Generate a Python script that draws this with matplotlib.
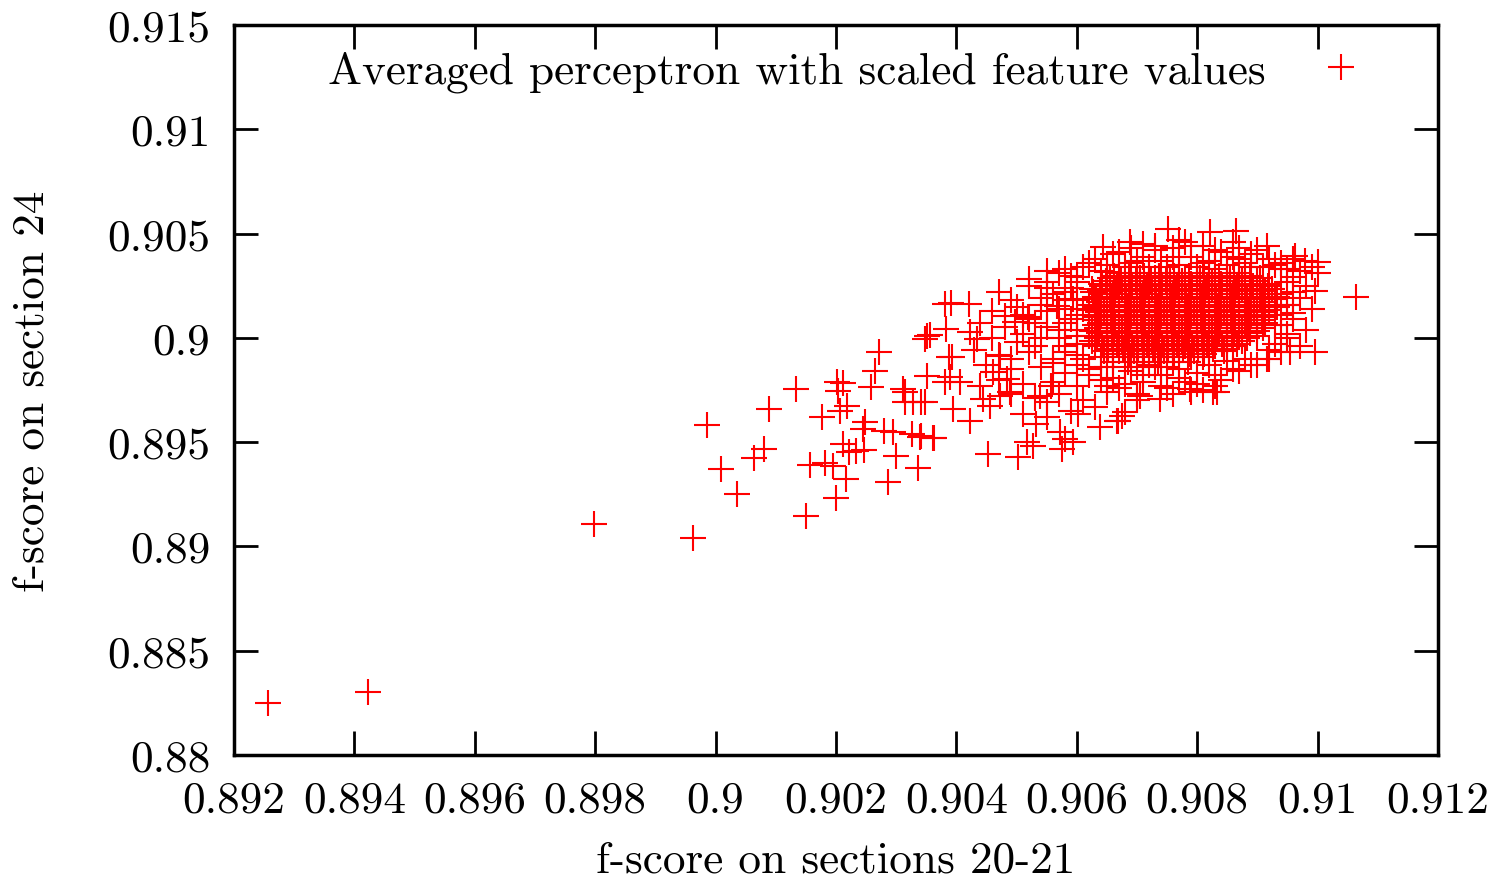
import matplotlib
matplotlib.use('Agg')
import matplotlib.pyplot as plt

plt.rcParams['font.family'] = 'cmr10'
plt.rcParams['mathtext.fontset'] = 'cm'
plt.rcParams['axes.unicode_minus'] = False

# sparse tail and loose points around the cluster (x = sections 20-21, y = section 24)
tail_x = [0.89256, 0.89423, 0.89798, 0.89962, 0.89986, 0.90009, 0.90035, 0.90064, 0.90081, 0.90089,
          0.90133, 0.90150, 0.90157, 0.90176, 0.90182, 0.90195, 0.90200, 0.90201, 0.90204, 0.90207,
          0.90211, 0.90212, 0.90217, 0.90219, 0.90222, 0.90233, 0.90245, 0.90246, 0.90248, 0.90258,
          0.90265, 0.90272, 0.90280, 0.90286, 0.90295, 0.90299, 0.90312, 0.90315, 0.90326, 0.90328,
          0.90337, 0.90341, 0.90348, 0.90351, 0.90361, 0.90395, 0.90381, 0.90389, 0.90388, 0.90382,
          0.90351, 0.90356, 0.90348, 0.90381, 0.90391, 0.90315, 0.90342, 0.90340, 0.90362, 0.90421,
          0.90423, 0.90434, 0.90392, 0.90406, 0.90423, 0.90445, 0.90453, 0.90503, 0.90517, 0.90528,
          0.90533, 0.90511, 0.90572, 0.90580, 0.90575, 0.90594, 0.90602, 0.90639, 0.90666, 0.90481,
          0.90519, 0.90497, 0.90472, 0.90461, 0.90484, 0.90439, 0.90456, 0.90472, 0.90489, 0.90539,
          0.90550, 0.90558, 0.90521, 0.90550, 0.90590, 0.90644, 0.90650, 0.90567, 0.90594, 0.90627]
tail_y = [0.88249, 0.88302, 0.89108, 0.89039, 0.89584, 0.89371, 0.89251, 0.89423, 0.89467, 0.89659,
          0.89755, 0.89144, 0.89390, 0.89622, 0.89400, 0.89387, 0.89231, 0.89790, 0.89747, 0.89651,
          0.89491, 0.89782, 0.89323, 0.89675, 0.89451, 0.89459, 0.89563, 0.89464, 0.89595, 0.89763,
          0.89840, 0.89934, 0.89555, 0.89310, 0.89547, 0.89435, 0.89755, 0.89694, 0.89539, 0.89691,
          0.89375, 0.89531, 0.89691, 0.89819, 0.89520, 0.89659, 0.89787, 0.89811, 0.89910, 0.90042,
          0.90010, 0.90014, 0.89995, 0.90162, 0.90166, 0.89739, 0.89691, 0.89523, 0.89518, 0.90162,
          0.90027, 0.89995, 0.89907, 0.89787, 0.89603, 0.89707, 0.89443, 0.89427, 0.89499, 0.89483,
          0.89587, 0.89635, 0.89547, 0.89515, 0.89467, 0.89499, 0.89635, 0.89571, 0.89603, 0.90106,
          0.90099, 0.90075, 0.89914, 0.89835, 0.89803, 0.89771, 0.89675, 0.89723, 0.89739, 0.89723,
          0.89691, 0.89771, 0.90282, 0.90322, 0.90298, 0.90434, 0.90314, 0.90154, 0.90186, 0.90218]

# outer edge of the main cluster
edge_x = [0.90751, 0.90821, 0.90864, 0.90688, 0.90916, 0.90959, 0.90979, 0.91001, 0.90996, 0.91064,
          0.90996, 0.90954, 0.90916, 0.90826, 0.90788, 0.90738, 0.90675, 0.90668, 0.90680, 0.90705,
          0.90833, 0.90962]
edge_y = [0.90522, 0.90508, 0.90512, 0.90460, 0.90440, 0.90378, 0.90368, 0.90364, 0.90225, 0.90196,
          0.89932, 0.89932, 0.89899, 0.89740, 0.89755, 0.89707, 0.89625, 0.89600, 0.89645, 0.89721,
          0.89740, 0.90393]

# medium density band on the left / lower-left of the cluster
left_x = [0.9047, 0.9052, 0.9056, 0.9059, 0.9049, 0.9054, 0.9058, 0.9061, 0.9046, 0.9051,
          0.9055, 0.9059, 0.9044, 0.9048, 0.9053, 0.9057, 0.9060, 0.9046, 0.9050, 0.9054,
          0.9058, 0.9043, 0.9047, 0.9052, 0.9056, 0.9060, 0.9045, 0.9049, 0.9054, 0.9058,
          0.9062, 0.9047, 0.9051, 0.9056, 0.9060, 0.9064, 0.9049, 0.9053, 0.9057, 0.9061,
          0.9065, 0.9059, 0.9063, 0.9055]
left_y = [0.9022, 0.9025, 0.9021, 0.9024, 0.9018, 0.9016, 0.9018, 0.9014, 0.9013, 0.9011,
          0.9013, 0.9009, 0.9007, 0.9005, 0.9007, 0.9004, 0.9001, 0.9000, 0.8998, 0.9000,
          0.8996, 0.8994, 0.8992, 0.8993, 0.8990, 0.8992, 0.8987, 0.8985, 0.8986, 0.8983,
          0.8985, 0.8980, 0.8978, 0.8979, 0.8977, 0.8980, 0.8973, 0.8971, 0.8973, 0.8970,
          0.8974, 0.8965, 0.8967, 0.8962]

# top, right and bottom bands
band_x = [0.9062, 0.9066, 0.9070, 0.9073, 0.9076, 0.9079, 0.9081, 0.9084, 0.9087, 0.9090,
          0.9093, 0.9095, 0.9071, 0.9077, 0.9086, 0.9058, 0.9064, 0.9068, 0.9075, 0.9083,
          0.9089, 0.9060, 0.9055, 0.9057,
          0.9096, 0.9098, 0.9097, 0.9099, 0.9096, 0.9098, 0.9095, 0.9097, 0.9094, 0.9100,
          0.9099, 0.9094,
          0.9068, 0.9071, 0.9074, 0.9077, 0.9080, 0.9083, 0.9086, 0.9089, 0.9092, 0.9076,
          0.9081, 0.9070]
band_y = [0.9036, 0.9040, 0.9037, 0.9042, 0.9039, 0.9044, 0.9036, 0.9041, 0.9038, 0.9042,
          0.9035, 0.9033, 0.9045, 0.9047, 0.9046, 0.9033, 0.9032, 0.9034, 0.9034, 0.9033,
          0.9034, 0.9029, 0.9027, 0.9031,
          0.9029, 0.9025, 0.9019, 0.9014, 0.9009, 0.9004, 0.9000, 0.8996, 0.8993, 0.9031,
          0.9034, 0.9033,
          0.8978, 0.8982, 0.8977, 0.8981, 0.8978, 0.8982, 0.8985, 0.8987, 0.8990, 0.8973,
          0.8975, 0.8970]

# dense ring just around the solid core (top, bottom, left, right)
ring_x = [0.9061, 0.9063, 0.9065, 0.9067, 0.9069, 0.9071, 0.9072, 0.9074, 0.9076, 0.9077,
          0.9079, 0.9080, 0.9082, 0.9083, 0.9085, 0.9086, 0.9088, 0.9089, 0.9091, 0.9092,
          0.9094, 0.9078, 0.9073, 0.9069, 0.9081, 0.9087,
          0.9060, 0.9062, 0.9064, 0.9066, 0.9067, 0.9069, 0.9071, 0.9072, 0.9074, 0.9075,
          0.9077, 0.9078, 0.9080, 0.9082, 0.9084, 0.9085, 0.9087, 0.9088, 0.9090, 0.9079,
          0.9083, 0.9065, 0.9070,
          0.9060, 0.9058, 0.9060, 0.9057, 0.9060, 0.9058, 0.9060, 0.9057, 0.9060, 0.9058,
          0.9061, 0.9055, 0.9054, 0.9052, 0.9055, 0.9053, 0.9056, 0.9050, 0.9051, 0.9049,
          0.9095, 0.9096, 0.9095, 0.9096, 0.9094, 0.9095, 0.9093, 0.9092, 0.9097]
ring_y = [0.9034, 0.9038, 0.9035, 0.9041, 0.9036, 0.9039, 0.9034, 0.9037, 0.9043, 0.9035,
          0.9039, 0.9034, 0.9037, 0.9042, 0.9035, 0.9039, 0.9036, 0.9040, 0.9034, 0.9038,
          0.9036, 0.9046, 0.9044, 0.9043, 0.9044, 0.9043,
          0.8987, 0.8982, 0.8986, 0.8981, 0.8976, 0.8984, 0.8979, 0.8987, 0.8982, 0.8976,
          0.8985, 0.8979, 0.8983, 0.8987, 0.8980, 0.8989, 0.8984, 0.8990, 0.8987, 0.8974,
          0.8977, 0.8977, 0.8973,
          0.9027, 0.9022, 0.9018, 0.9014, 0.9011, 0.9007, 0.9004, 0.9000, 0.8997, 0.8993,
          0.8990, 0.9024, 0.9019, 0.9009, 0.9005, 0.8996, 0.8988, 0.9015, 0.9002, 0.8990,
          0.9027, 0.9022, 0.9016, 0.9012, 0.9006, 0.9002, 0.8997, 0.8994, 0.9032]

# solid core of the cluster, one list of x per row
core_rows_y = [0.9031, 0.90285, 0.9026, 0.90235, 0.9021, 0.90185, 0.9016, 0.90135, 0.9011,
               0.90085, 0.9006, 0.90035, 0.9001, 0.89985, 0.8996, 0.89935, 0.8991, 0.89885, 0.8986,
               0.90298, 0.90273, 0.90248, 0.90223, 0.90198, 0.90173, 0.90148, 0.90123,
               0.90098, 0.90073, 0.90048, 0.90023, 0.89998, 0.89973, 0.89948, 0.89923]
core_rows_x = [
    [0.9067, 0.9070, 0.9072, 0.9075, 0.9077, 0.9080, 0.9082, 0.9085, 0.9087],
    [0.90655, 0.9068, 0.90705, 0.9073, 0.90755, 0.9078, 0.90805, 0.9083, 0.90855, 0.9088, 0.90905],
    [0.9064, 0.9067, 0.9069, 0.9072, 0.9074, 0.9077, 0.9079, 0.9082, 0.9084, 0.9087, 0.9089, 0.9092],
    [0.90625, 0.9065, 0.90675, 0.9070, 0.90725, 0.9075, 0.90775, 0.9080, 0.90825, 0.9085, 0.90875,
     0.9090, 0.90925],
    [0.9064, 0.9066, 0.9069, 0.9071, 0.9074, 0.9076, 0.9079, 0.9081, 0.9084, 0.9086, 0.9089,
     0.9091, 0.9094],
    [0.9063, 0.90655, 0.9068, 0.90705, 0.9073, 0.90755, 0.9078, 0.90805, 0.9083, 0.90855, 0.9088,
     0.90905, 0.9093],
    [0.9062, 0.9065, 0.9067, 0.9070, 0.9072, 0.9075, 0.9077, 0.9080, 0.9082, 0.9085, 0.9087,
     0.9090, 0.9092, 0.9095],
    [0.9062, 0.90645, 0.9067, 0.90695, 0.9072, 0.90745, 0.9077, 0.90795, 0.9082, 0.90845, 0.9087,
     0.90895, 0.9092],
    [0.9064, 0.9066, 0.9069, 0.9071, 0.9074, 0.9076, 0.9079, 0.9081, 0.9084, 0.9086, 0.9089,
     0.9091, 0.9094],
    [0.9063, 0.90635, 0.9066, 0.90685, 0.9071, 0.90735, 0.9076, 0.90785, 0.9081, 0.90835, 0.9086,
     0.90885, 0.9091],
    [0.9063, 0.9065, 0.9068, 0.9070, 0.9073, 0.9075, 0.9078, 0.9080, 0.9083, 0.9085, 0.9088,
     0.9090, 0.9093],
    [0.90625, 0.9065, 0.90675, 0.9070, 0.90725, 0.9075, 0.90775, 0.9080, 0.90825, 0.9085, 0.90875,
     0.9090],
    [0.9062, 0.9065, 0.9067, 0.9070, 0.9072, 0.9075, 0.9077, 0.9080, 0.9082, 0.9085, 0.9087, 0.9090],
    [0.90625, 0.9065, 0.90675, 0.9070, 0.90725, 0.9075, 0.90775, 0.9080, 0.90825, 0.9085, 0.90875],
    [0.9063, 0.9066, 0.9068, 0.9071, 0.9073, 0.9076, 0.9078, 0.9081, 0.9083, 0.9086],
    [0.90645, 0.9067, 0.90695, 0.9072, 0.90745, 0.9077, 0.90795, 0.9082, 0.90845],
    [0.9064, 0.9066, 0.9069, 0.9071, 0.9074, 0.9076, 0.9079, 0.9081],
    [0.9066, 0.90685, 0.9071, 0.90735, 0.9076, 0.90785],
    [0.9065, 0.9068, 0.9070, 0.9073, 0.9075],
    # in-between rows
    [0.90662, 0.90687, 0.90712, 0.90737, 0.90762, 0.90787, 0.90812, 0.90837, 0.90862, 0.90887],
    [0.90649, 0.90674, 0.90699, 0.90724, 0.90749, 0.90774, 0.90799, 0.90824, 0.90849, 0.90874,
     0.90899],
    [0.90642, 0.90667, 0.90692, 0.90717, 0.90742, 0.90767, 0.90792, 0.90817, 0.90842, 0.90867,
     0.90892, 0.90917],
    [0.90638, 0.90663, 0.90688, 0.90713, 0.90738, 0.90763, 0.90788, 0.90813, 0.90838, 0.90863,
     0.90888, 0.90913],
    [0.90632, 0.90657, 0.90682, 0.90707, 0.90732, 0.90757, 0.90782, 0.90807, 0.90832, 0.90857,
     0.90882, 0.90907, 0.90932],
    [0.90637, 0.90662, 0.90687, 0.90712, 0.90737, 0.90762, 0.90787, 0.90812, 0.90837, 0.90862,
     0.90887, 0.90912],
    [0.90633, 0.90658, 0.90683, 0.90708, 0.90733, 0.90758, 0.90783, 0.90808, 0.90833, 0.90858,
     0.90883, 0.90908, 0.90933],
    [0.90636, 0.90661, 0.90686, 0.90711, 0.90736, 0.90761, 0.90786, 0.90811, 0.90836, 0.90861,
     0.90886, 0.90911],
    [0.90632, 0.90657, 0.90682, 0.90707, 0.90732, 0.90757, 0.90782, 0.90807, 0.90832, 0.90857,
     0.90882, 0.90907],
    [0.90638, 0.90663, 0.90688, 0.90713, 0.90738, 0.90763, 0.90788, 0.90813, 0.90838, 0.90863,
     0.90888, 0.90913],
    [0.90634, 0.90659, 0.90684, 0.90709, 0.90734, 0.90759, 0.90784, 0.90809, 0.90834, 0.90859,
     0.90884, 0.90909],
    [0.90637, 0.90662, 0.90687, 0.90712, 0.90737, 0.90762, 0.90787, 0.90812, 0.90837, 0.90862,
     0.90887],
    [0.90633, 0.90658, 0.90683, 0.90708, 0.90733, 0.90758, 0.90783, 0.90808, 0.90833, 0.90858,
     0.90883],
    [0.90642, 0.90667, 0.90692, 0.90717, 0.90742, 0.90767, 0.90792, 0.90817, 0.90842, 0.90867],
    [0.90652, 0.90677, 0.90702, 0.90727, 0.90752, 0.90777, 0.90802, 0.90827, 0.90849],
    [0.90661, 0.90686, 0.90711, 0.90736, 0.90761, 0.90786, 0.90811],
]

x_ticks = [0.892, 0.894, 0.896, 0.898, 0.900, 0.902, 0.904, 0.906, 0.908, 0.910, 0.912]
y_ticks = [0.880, 0.885, 0.890, 0.895, 0.900, 0.905, 0.910, 0.915]

series_label = 'Averaged perceptron with scaled feature values'

core_x = []
core_y = []
for yy, row in zip(core_rows_y, core_rows_x):
    core_x += row
    core_y += [yy] * len(row)

all_x = tail_x + edge_x + left_x + band_x + ring_x + core_x
all_y = tail_y + edge_y + left_y + band_y + ring_y + core_y

fig = plt.figure(figsize=(15.01, 8.79), dpi=100)
ax = fig.add_axes([0.1559, 0.1399, 0.8021, 0.8305])

ax.plot(all_x, all_y, linestyle='none', marker='+', markersize=18.7, markeredgewidth=1.5,
        color='#ff0000', label=series_label)

ax.set_xlim(0.892, 0.912)
ax.set_ylim(0.88, 0.915)
ax.set_xticks(x_ticks)
ax.set_xticklabels(['{:g}'.format(round(t, 3)) for t in x_ticks])
ax.set_yticks(y_ticks)
ax.set_yticklabels(['{:g}'.format(round(t, 3)) for t in y_ticks])

fs = 32.6
ax.tick_params(direction='in', length=17, width=2, top=True, right=True, labelsize=fs)
ax.tick_params(axis='x', pad=18)
ax.tick_params(axis='y', pad=17)
for sp in ax.spines.values():
    sp.set_linewidth(2.5)

ax.set_xlabel('f-score on sections 20-21', fontsize=fs)
ax.set_ylabel('f-score on section 24', fontsize=fs)
ax.xaxis.set_label_coords(0.5, -0.117)
ax.yaxis.set_label_coords(-0.151, 0.5)

ax.legend(loc='upper right', bbox_to_anchor=(0.9383, 0.965), frameon=False, markerfirst=False,
          handlelength=1.0, handletextpad=1.17, borderpad=0, borderaxespad=0, fontsize=fs,
          numpoints=1)

fig.savefig('out.png', dpi=100)
